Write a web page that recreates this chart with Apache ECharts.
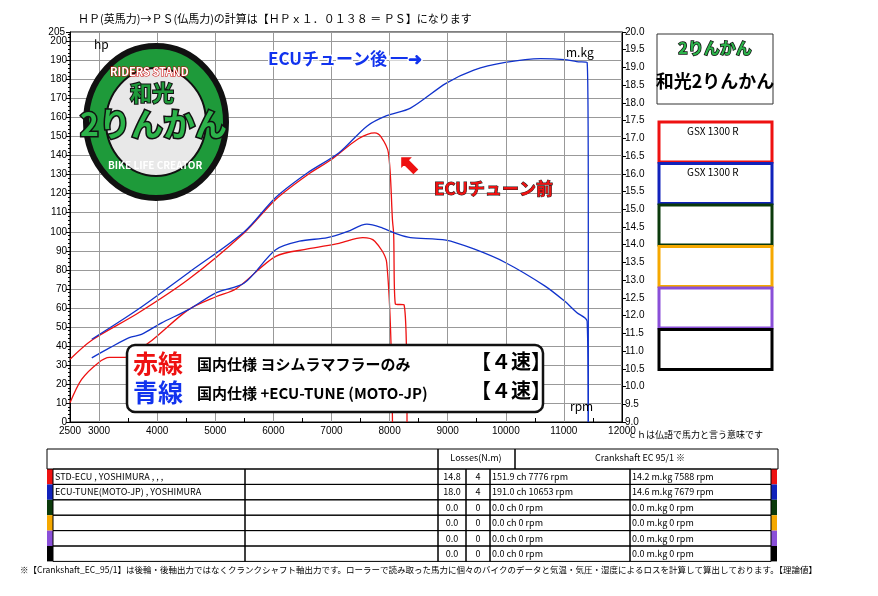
<!DOCTYPE html>
<html><head><meta charset="utf-8">
<script src="https://cdn.jsdelivr.net/npm/echarts@6/dist/echarts.min.js"></script>
<style>body{margin:0;background:#fff}#dyno{width:878px;height:596px}</style>
</head><body><div id="dyno"></div>
<script>
// red = STD-ECU, blue = ECU-TUNE ; [rpm, value]
var red_hp = [[2500,33],[2875,43],[3660,57],[4540,75],[5500,99.5],[6040,117],[6590,130],[7000,138],[7470,149],[7745,152],[7850,150],[7980,141.5],[8050,106],[8070,99],[8100,62],[8250,61.5],[8300,0]];
var red_tq = [[2500,9.54],[2700,10.2],[2980,10.66],[3180,10.82],[3450,10.82],[3860,11.24],[4540,12.17],[5020,12.54],[5360,12.76],[6040,13.67],[6590,13.88],[7130,14.04],[7540,14.2],[7745,14.1],[7950,13.5],[8050,9.0]];
var blue_hp = [[2875,43.5],[3660,59],[4540,78.5],[5500,100],[6040,118],[6590,131],[7130,141.5],[7610,155.5],[7950,161],[8360,165],[8970,178],[9450,185],[9990,189],[10600,191],[11010,190.5],[11220,189.4],[11400,189],[11420,106],[11420,0]];
var blue_tq = [[2875,10.81],[3180,11.09],[3520,11.38],[3730,11.47],[4070,11.79],[4540,12.17],[5020,12.65],[5500,12.92],[6040,13.86],[6450,14.1],[6930,14.2],[7270,14.37],[7610,14.58],[7880,14.47],[8150,14.29],[8360,14.2],[8970,14.13],[9450,13.88],[9990,13.5],[10670,12.84],[11010,12.41],[11220,12.09],[11400,11.84],[11420,9.0]];
var rpm_lines = [3000,4000,5000,6000,7000,8000,9000,10000,11000];
var run_names = ['STD-ECU , YOSHIMURA , , ,', 'ECU-TUNE(MOTO-JP) , YOSHIMURA', '', '', '', ''];
var run_losses = ['14.8','18.0','0.0','0.0','0.0','0.0'];
var run_gear = ['4','4','0','0','0','0'];
var run_power = ['151.9 ch 7776 rpm','191.0 ch 10653 rpm','0.0 ch 0 rpm','0.0 ch 0 rpm','0.0 ch 0 rpm','0.0 ch 0 rpm'];
var run_torque = ['14.2 m.kg 7588 rpm','14.6 m.kg 7679 rpm','0.0 m.kg 0 rpm','0.0 m.kg 0 rpm','0.0 m.kg 0 rpm','0.0 m.kg 0 rpm'];
var run_colors = ['#ee1111','#1122bb','#0b3a0b','#f5a800','#8a4fd8','#000000'];

var F = '"Noto Sans CJK JP", sans-serif';
var g = [];
function txt(x, y, s, o) {
    var st = {text: s, font: (o && o.font) || ('11px ' + F), fill: (o && o.fill) || '#000'};
    if (o && o.stroke) { st.stroke = o.stroke; st.lineWidth = o.lw || 2; }
    if (o && o.align) st.textAlign = o.align;
    g.push({type: 'text', x: x, y: y, z: 20, style: st});
}
function box(x, y, w, h, fill, stroke, lw, r) {
    g.push({type: 'rect', z: 15, shape: {x: x, y: y, width: w, height: h, r: r || 0},
        style: {fill: fill || 'none', stroke: stroke || '#000', lineWidth: lw || 1}});
}
// top note
txt(78, 13, 'ＨＰ(英馬力)→ＰＳ(仏馬力)の計算は【ＨＰｘ１．０１３８ ＝ ＰＳ】になります', {font: '11px ' + F});
txt(628, 430, 'ｃｈは仏語で馬力と言う意味です', {font: '9px ' + F});
txt(65, 27, '205', {font: '10px Arial', align: 'right'});
txt(94, 38, 'hp', {font: '12px ' + F});
txt(566, 46, 'm.kg', {font: '12px ' + F});
txt(570, 400, 'rpm', {font: '12px ' + F});
// logo
g.push({type: 'ellipse', z: 12, shape: {cx: 156, cy: 122, rx: 70, ry: 76}, style: {fill: '#1e9a3a', stroke: '#111', lineWidth: 6}});
g.push({type: 'ellipse', z: 13, shape: {cx: 156, cy: 122, rx: 50, ry: 54}, style: {fill: '#e8e8e8', stroke: '#111', lineWidth: 2}});
txt(110, 66, 'RIDERS STAND', {font: 'bold 11px ' + F, fill: '#fff', stroke: '#c00', lw: 1});
txt(130, 82, '和光', {font: 'bold 22px ' + F, fill: '#1e9a3a', stroke: '#111', lw: 2});
txt(80, 108, '2りんかん', {font: 'bold 32px ' + F, fill: '#2cb34a', stroke: '#111', lw: 3});
txt(108, 160, 'BIKE LIFE CREATOR', {font: 'bold 10px ' + F, fill: '#fff'});
// annotations
txt(268, 50, 'ECUチューン後 ━➜', {font: 'bold 17px ' + F, fill: '#1133ee', stroke: '#fff', lw: 3});
txt(398, 150, '⬉', {font: 'bold 26px ' + F, fill: '#ee1111'});
txt(434, 180, 'ECUチューン前', {font: 'bold 17px ' + F, fill: '#ee1111', stroke: '#222', lw: 1});
// legend box inside chart
box(127, 345, 416, 67, '#fff', '#111', 2.5, 8);
txt(133, 351, '赤線', {font: 'bold 25px ' + F, fill: '#ee1111'});
txt(197, 357, '国内仕様 ヨシムラマフラーのみ', {font: 'bold 15px ' + F});
txt(471, 351, '【４速】', {font: 'bold 20px ' + F});
txt(133, 380, '青線', {font: 'bold 25px ' + F, fill: '#1133ee'});
txt(197, 386, '国内仕様 +ECU-TUNE (MOTO-JP)', {font: 'bold 15px ' + F});
txt(471, 380, '【４速】', {font: 'bold 20px ' + F});
// right panel
box(657, 34, 116, 70, '#fff', '#333', 1);
txt(715, 40, '2りんかん', {font: 'bold 16px ' + F, fill: '#2cb34a', stroke: '#111', lw: 1.5, align: 'center'});
txt(715, 72, '和光2りんかん', {font: 'bold 18px ' + F, align: 'center'});
for (var i = 0; i < run_colors.length; i++) {
    box(659, 122 + i * 41.5, 113, 40, '#fff', run_colors[i], 3);
}
txt(687, 126, 'GSX 1300 R', {font: '10px ' + F});
txt(687, 167, 'GSX 1300 R', {font: '10px ' + F});
// table
box(47, 449, 391, 20); box(438, 449, 77, 20); box(515, 449, 263, 20);
txt(476, 453, 'Losses(N.m)', {font: '9px ' + F, align: 'center'});
txt(640, 453, 'Crankshaft EC 95/1 ※', {font: '9px ' + F, align: 'center'});
for (var r = 0; r < run_names.length; r++) {
    var y = 469 + r * 15.4;
    g.push({type: 'rect', z: 14, shape: {x: 47, y: y, width: 6, height: 15.4}, style: {fill: run_colors[r]}});
    g.push({type: 'rect', z: 14, shape: {x: 771, y: y, width: 6, height: 15.4}, style: {fill: run_colors[r]}});
    box(53, y, 192, 15.4); box(245, y, 193, 15.4); box(438, y, 28, 15.4);
    box(466, y, 24, 15.4); box(490, y, 140, 15.4); box(630, y, 141, 15.4);
    txt(55, y + 3, run_names[r], {font: '9px ' + F});
    txt(452, y + 3, run_losses[r], {font: '9px ' + F, align: 'center'});
    txt(478, y + 3, run_gear[r], {font: '9px ' + F, align: 'center'});
    txt(492, y + 3, run_power[r], {font: '9px ' + F});
    txt(632, y + 3, run_torque[r], {font: '9px ' + F});
}
txt(20, 566, '※【Crankshaft_EC_95/1】は後輪・後軸出力ではなくクランクシャフト軸出力です。ローラーで読み取った馬力に個々のバイクのデータと気温・気圧・湿度によるロスを計算して算出しております。【理論値】', {font: '8.5px ' + F});

var axisLbl = {color: '#000', fontSize: 10, fontFamily: 'Arial'};
var chart = echarts.init(document.getElementById('dyno'));
chart.setOption({
    animation: false,
    backgroundColor: '#fff',
    grid: {left: 70, right: 256, top: 32, bottom: 174, show: true, borderColor: '#000', borderWidth: 1},
    xAxis: {
        type: 'value', min: 2500, max: 12000, interval: 500,
        axisLine: {lineStyle: {color: '#000'}},
        axisTick: {inside: true, length: 4, lineStyle: {color: '#000'}},
        axisLabel: Object.assign({margin: 4, formatter: function (v) { return (v % 1000 === 0 || v === 2500) ? v : ''; }}, axisLbl),
        splitLine: {show: false}
    },
    yAxis: [{
        type: 'value', min: 0, max: 205, interval: 10,
        axisLine: {show: true, lineStyle: {color: '#000'}},
        axisTick: {lineStyle: {color: '#000'}, length: 4},
        minorTick: {show: true, splitNumber: 5, length: 2, lineStyle: {color: '#000'}},
        axisLabel: Object.assign({margin: 3}, axisLbl),
        splitLine: {lineStyle: {color: '#999'}}
    }, {
        type: 'value', min: 9, max: 20, interval: 0.5, position: 'right',
        axisLine: {show: true, lineStyle: {color: '#000'}},
        axisTick: {lineStyle: {color: '#000'}, length: 4},
        axisLabel: Object.assign({margin: 3, formatter: function (v) { return v.toFixed(1); }}, axisLbl),
        splitLine: {show: false}
    }],
    series: [
        {type: 'line', data: [], markLine: {silent: true, symbol: 'none', label: {show: false},
            lineStyle: {color: '#999', type: 'solid', width: 1},
            data: rpm_lines.map(function (v) { return {xAxis: v}; })}},
        {name: 'red hp', type: 'line', smooth: 0.3, showSymbol: false, data: red_hp, lineStyle: {color: '#ee1111', width: 1.3}},
        {name: 'red tq', type: 'line', yAxisIndex: 1, smooth: 0.3, showSymbol: false, data: red_tq, lineStyle: {color: '#ee1111', width: 1.3}},
        {name: 'blue hp', type: 'line', smooth: 0.3, showSymbol: false, data: blue_hp, lineStyle: {color: '#1133cc', width: 1.3}},
        {name: 'blue tq', type: 'line', yAxisIndex: 1, smooth: 0.3, showSymbol: false, data: blue_tq, lineStyle: {color: '#1133cc', width: 1.3}}
    ],
    graphic: g
});
</script></body></html>
